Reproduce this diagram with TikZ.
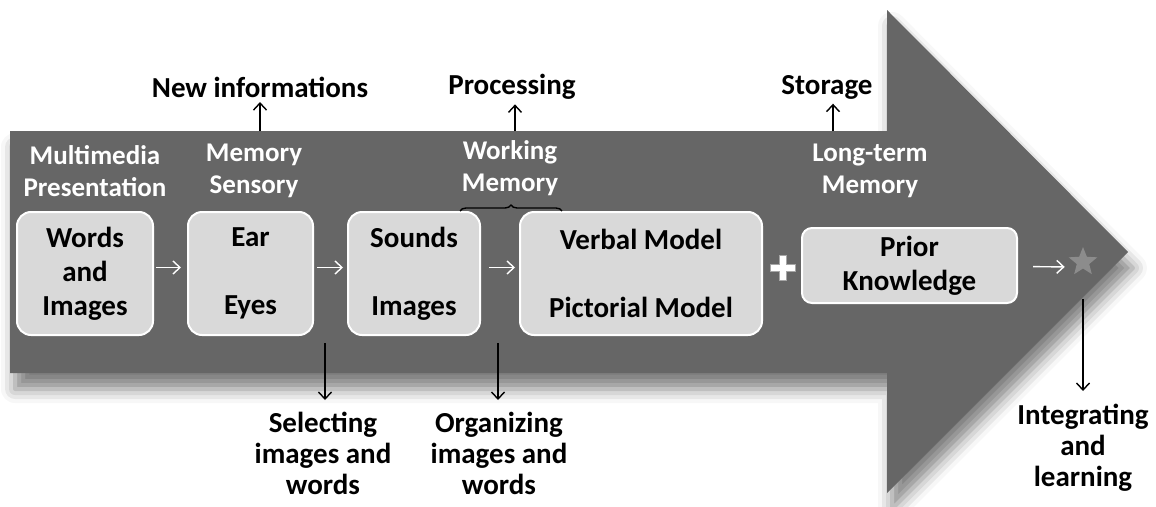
\documentclass[tikz,border=0pt]{standalone}
\usepackage{fontspec}
\setmainfont{Carlito}
\usetikzlibrary{positioning,shadows.blur,decorations.pathreplacing,shapes.geometric,arrows.meta}

\begin{document}
\begin{tikzpicture}[x=1pt,y=-1pt,->,>={Straight Barb[length=7pt,width=13pt]},thick,
    box/.style={draw=white,line width=2pt,fill=black!15,rounded corners=14pt,align=center,inner sep=0pt,font=\bfseries\fontsize{29}{34}\selectfont},
    head/.style={text=white,align=center,font=\bfseries\fontsize{27}{32}\selectfont},
    toplabel/.style={font=\bfseries\fontsize{29}{32}\selectfont},
    outcome/.style={align=center,anchor=north,font=\bfseries\fontsize{29}{31}\selectfont},
    flow/.style={white,line width=1.4pt},
    pull/.style={black,line width=1.4pt}]
            \useasboundingbox (0,0) rectangle (1156,506);

            % the big arrow
            \fill[black!60,blur shadow={shadow xshift=5pt,shadow yshift=-16pt,shadow blur radius=14pt,shadow opacity=50}]
                (10,131) -- (887,131) -- (887,10) -- (1128,252) -- (887,493) -- (887,373) -- (10,373) -- cycle;

            \node[box,minimum width=136,minimum height=123] (1) at (85,273.5) {Words\\and\\Images};
            \node[box,minimum width=125,minimum height=123] (2) at (250.5,273.5) {Ear\\~\\Eyes};
            \node[box,minimum width=132,minimum height=123] (3) at (414,273.5) {Sounds\\~\\Images};
            \node[box,minimum width=242,minimum height=123] (4) at (641,273.5) {Verbal Model\\~\\Pictorial Model};
            \node[box,minimum width=215,minimum height=75,rounded corners=10pt] (5) at (909.5,265.5) {Prior\\Knowledge};
            \node[star,star points=5,star point ratio=2.3,fill=black!45,minimum size=30,inner sep=0pt] (6) at (1083,262) {};

            \node[head] (7) at (95,171) {Multimedia\\Presentation};
            \node[head] (8) at (254,171) {Memory\\Sensory};
            \node[head] (9) at (510,168) {Working\\Memory};
            \node[head] (10) at (870,171) {Long-term\\Memory};

            \node[toplabel] (11) at (260,87) {New informations};
            \node[toplabel] (12) at (512,87) {Processing};
            \node[toplabel] (13) at (827,87) {Storage};

            \node[outcome] (14) at (323,408) {Selecting\\images and\\words};
            \node[outcome] (15) at (499,408) {Organizing\\images and\\words};
            \node[outcome] (16) at (1083,400) {Integrating\\and\\learning};

            % plus sign
            \filldraw[-,fill=white,draw=black!35,line width=0.8pt]
                (779.5,255.5) -- (786.5,255.5) -- (786.5,264.5) -- (795.5,264.5) -- (795.5,271.5) -- (786.5,271.5)
                -- (786.5,280.5) -- (779.5,280.5) -- (779.5,271.5) -- (770.5,271.5) -- (770.5,264.5) -- (779.5,264.5) -- cycle;

            \coordinate (t1) at (260,131);
            \coordinate (t2) at (515,131);
            \coordinate (t3) at (833,131);
            \coordinate (b1) at (325,343);
            \coordinate (b2) at (498,343);
            \coordinate (b3) at (1083,299);
            \coordinate (w1) at (460,211);
            \coordinate (w2) at (562,211);

            \path[flow]
                ([yshift=6pt]1.east) edge[shorten <=2pt,shorten >=6pt] ([yshift=6pt]2.west)
                ([yshift=6pt]2.east) edge[shorten <=3pt,shorten >=4pt] ([yshift=6pt]3.west)
                ([yshift=6pt]3.east) edge[shorten <=8pt,shorten >=4pt] ([yshift=6pt]4.west)
                ([yshift=-1pt]5.east) edge[shorten <=15pt,shorten >=9pt] ([yshift=-5pt]6.west)
                ;
            \path[pull]
                (t1) edge[shorten >=1pt] (t1 |- 11.south)
                (t2) edge[shorten >=1pt] (t2 |- 12.south)
                (t3) edge[shorten >=1pt] (t3 |- 13.south)
                (b1) edge[shorten >=8pt] (b1 |- 14.north)
                (b2) edge[shorten >=8pt] (b2 |- 15.north)
                (b3) edge[shorten >=9pt] (b3 |- 16.north)
                ;
            \draw[-,pull,decorate,decoration={brace,amplitude=6pt}] (w1) -- (w2);
        \end{tikzpicture}
\end{document}
